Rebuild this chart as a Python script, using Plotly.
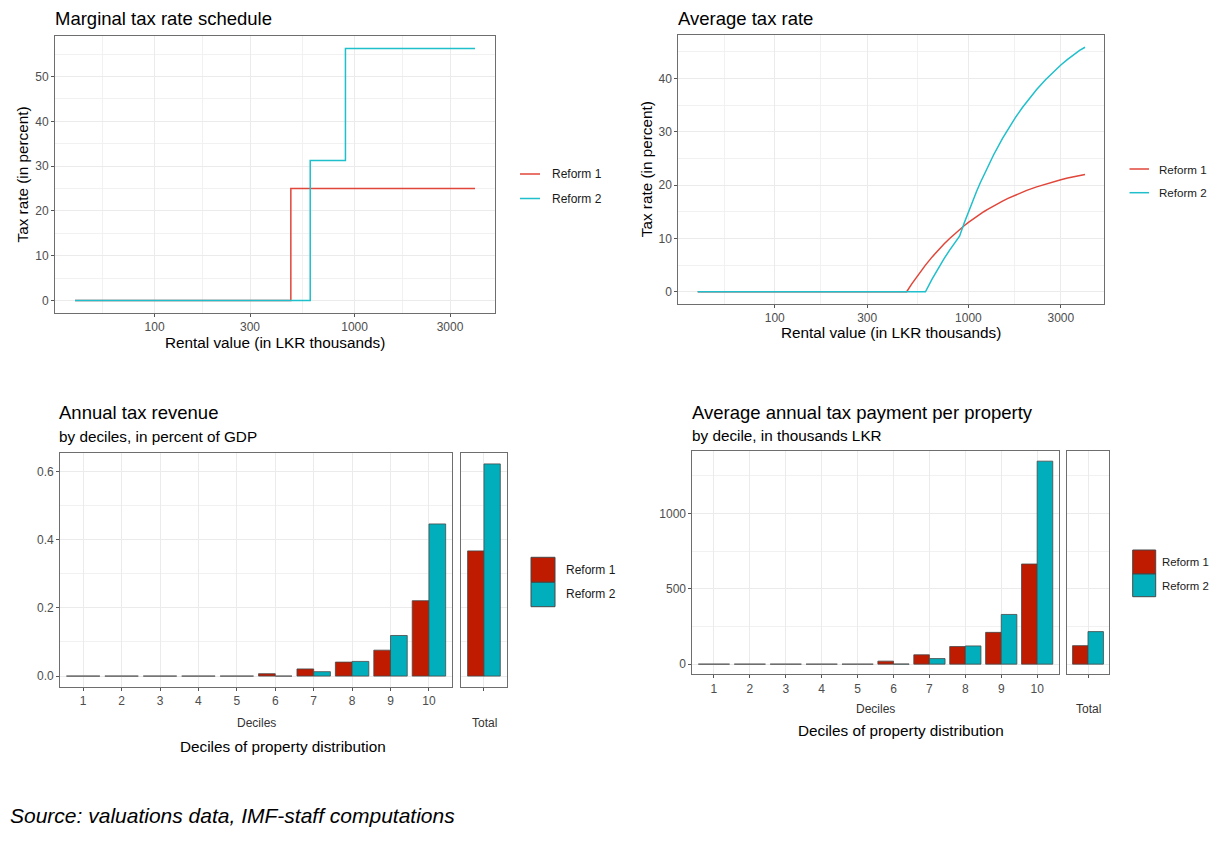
import math
import plotly.graph_objects as go

PAGE_W, PAGE_H = 1217, 852
OFF = 8                      # default body margin of the html page
W, H = PAGE_W - 2 * OFF, PAGE_H - 2 * OFF

# ---------------- data ----------------
rental_marg = [40, 480, 600, 900, 4000]
marg_reform1 = [0, 25, 25, 25, 25]
marg_reform2 = [0, 0, 31.25, 56.25, 56.25]

rental_avg = [40, 480, 510, 540, 570, 600, 650, 700, 750, 800, 850, 900, 950, 1000, 1050,
              1100, 1150, 1200, 1250, 1350, 1500, 1600, 1750, 1900, 2000, 2250, 2500, 2750,
              3000, 3250, 3500, 3750, 4000]
avg_reform1 = [0, 0, 1.47, 2.78, 3.95, 5.0, 6.54, 7.86, 9.0, 10.0, 10.88, 11.67, 12.37, 13.0,
               13.57, 14.09, 14.57, 15.0, 15.4, 16.11, 17.0, 17.5, 18.14, 18.68, 19.0, 19.67,
               20.2, 20.64, 21.0, 21.31, 21.57, 21.8, 22.0]
avg_reform2 = [0, 0, 0, 0, 0, 0, 2.40, 4.46, 6.25, 7.81, 9.19, 10.42, 12.83, 15.0, 16.96,
               18.75, 20.38, 21.88, 23.25, 25.69, 28.75, 30.47, 32.68, 34.54, 35.63, 37.92,
               39.75, 41.25, 42.5, 43.56, 44.46, 45.25, 45.84]

deciles = ["1", "2", "3", "4", "5", "6", "7", "8", "9", "10"]
rev_reform1 = [0, 0, 0, 0, 0, 0.007, 0.021, 0.041, 0.076, 0.221]
rev_reform2 = [0, 0, 0, 0, 0, 0.0, 0.013, 0.043, 0.119, 0.446]
rev_total = [0.367, 0.622]          # Reform 1, Reform 2

pay_reform1 = [0, 0, 0, 0, 0, 20, 62, 117, 211, 665]
pay_reform2 = [0, 0, 0, 0, 0, 1, 37, 121, 330, 1348]
pay_total = [123, 216]              # Reform 1, Reform 2

series_names = ["Reform 1", "Reform 2"]

# x tick labels for log axes
log_ticks = [100, 300, 1000, 3000]
log_minor = [54.77, 173.2, 547.7, 1732.1]

# ---------------- styles ----------------
FONT = "Liberation Sans, Arial, Helvetica, sans-serif"
LINE_RED = "#E0463A"
LINE_TEAL = "#1FBFCB"
BAR_RED = "#BE1B00"
BAR_TEAL = "#00AFBB"
BAR_EDGE = "#474747"
GRID = "#EBEBEB"
BORDER = "#6E6E6E"
TICKTXT = "#4D4D4D"
T_SIZE = 18.5
S_SIZE = 15.3


def px(x):
    return (x - OFF) / W


def py(y):
    return 1 - (y - OFF) / H


def expand(lo, hi, f=0.05):
    d = (hi - lo) * f
    return [lo - d, hi + d]


lr = expand(math.log10(min(rental_marg)), math.log10(max(rental_marg)))

fig = go.Figure()

# --- top left: marginal rates (step lines)
for name, vals, col in zip(series_names, [marg_reform1, marg_reform2], [LINE_RED, LINE_TEAL]):
    fig.add_trace(go.Scatter(x=rental_marg, y=vals, mode="lines", name=name,
                             line=dict(color=col, width=1.5, shape="hv"),
                             xaxis="x", yaxis="y", showlegend=False))

# --- top right: average rates
for name, vals, col in zip(series_names, [avg_reform1, avg_reform2], [LINE_RED, LINE_TEAL]):
    fig.add_trace(go.Scatter(x=rental_avg, y=vals, mode="lines", name=name,
                             line=dict(color=col, width=1.5),
                             xaxis="x2", yaxis="y2", showlegend=False))

# --- bottom left: revenue bars
bar_common = dict(marker_line_color=BAR_EDGE, marker_line_width=0.8, showlegend=False)
fig.add_trace(go.Bar(x=deciles, y=rev_reform1, name="Reform 1", marker_color=BAR_RED,
                     xaxis="x3", yaxis="y3", offsetgroup="a", **bar_common))
fig.add_trace(go.Bar(x=deciles, y=rev_reform2, name="Reform 2", marker_color=BAR_TEAL,
                     xaxis="x3", yaxis="y3", offsetgroup="b", **bar_common))
fig.add_trace(go.Bar(x=["Total"], y=[rev_total[0]], name="Reform 1", marker_color=BAR_RED,
                     xaxis="x4", yaxis="y4", offsetgroup="a", **bar_common))
fig.add_trace(go.Bar(x=["Total"], y=[rev_total[1]], name="Reform 2", marker_color=BAR_TEAL,
                     xaxis="x4", yaxis="y4", offsetgroup="b", **bar_common))

# --- bottom right: payment bars
fig.add_trace(go.Bar(x=deciles, y=pay_reform1, name="Reform 1", marker_color=BAR_RED,
                     xaxis="x5", yaxis="y5", offsetgroup="a", **bar_common))
fig.add_trace(go.Bar(x=deciles, y=pay_reform2, name="Reform 2", marker_color=BAR_TEAL,
                     xaxis="x5", yaxis="y5", offsetgroup="b", **bar_common))
fig.add_trace(go.Bar(x=["Total"], y=[pay_total[0]], name="Reform 1", marker_color=BAR_RED,
                     xaxis="x6", yaxis="y6", offsetgroup="a", **bar_common))
fig.add_trace(go.Bar(x=["Total"], y=[pay_total[1]], name="Reform 2", marker_color=BAR_TEAL,
                     xaxis="x6", yaxis="y6", offsetgroup="b", **bar_common))

tickfont = dict(family=FONT, size=12, color=TICKTXT)
base_axis = dict(showline=True, mirror=True, linecolor=BORDER, linewidth=1,
                 ticks="outside", ticklen=3, tickcolor="#555555", tickwidth=1,
                 gridcolor=GRID, gridwidth=1, zeroline=False, tickfont=tickfont)


def minor(vals):
    return dict(tickmode="array", tickvals=vals, showgrid=True, gridcolor="#F1F1F1",
                gridwidth=0.6, ticks="")


rev_all = rev_reform1 + rev_reform2 + rev_total
pay_all = pay_reform1 + pay_reform2 + pay_total

rev_range = expand(0, max(rev_all))
pay_range = expand(0, max(pay_all))

fig.update_layout(
    width=W, height=H, autosize=False,
    margin=dict(l=0, r=0, t=0, b=0),
    paper_bgcolor="white", plot_bgcolor="white",
    font=dict(family=FONT, color="#000000"),
    showlegend=False,
    barmode="group", bargap=0.13, bargroupgap=0.0,
    # top-left
    xaxis=dict(base_axis, type="log", domain=[px(55), px(495)], range=lr, anchor="y",
               tickvals=log_ticks, ticktext=[str(v) for v in log_ticks], minor=minor(log_minor)),
    yaxis=dict(base_axis, domain=[py(313), py(36)], range=expand(0, max(marg_reform2)),
               anchor="x", tickvals=[0, 10, 20, 30, 40, 50],
               minor=minor([5, 15, 25, 35, 45, 55])),
    # top-right
    xaxis2=dict(base_axis, type="log", domain=[px(678.3), px(1104.4)], range=lr, anchor="y2",
                tickvals=log_ticks, ticktext=[str(v) for v in log_ticks], minor=minor(log_minor)),
    yaxis2=dict(base_axis, domain=[py(304), py(35)], range=expand(0, max(avg_reform2)),
                anchor="x2", tickvals=[0, 10, 20, 30, 40],
                minor=minor([5, 15, 25, 35, 45])),
    # bottom-left main
    xaxis3=dict(base_axis, type="category", domain=[px(60.1), px(452)], range=[-0.6, 9.6],
                anchor="y3"),
    yaxis3=dict(base_axis, domain=[py(686.7), py(453.3)], range=rev_range, anchor="x3",
                tickvals=[0, 0.2, 0.4, 0.6], ticktext=["0.0", "0.2", "0.4", "0.6"],
                minor=minor([0.1, 0.3, 0.5])),
    # bottom-left total
    xaxis4=dict(base_axis, type="category", domain=[px(461.4), px(506.5)], range=[-0.6, 0.6],
                anchor="y4", showticklabels=False),
    yaxis4=dict(base_axis, domain=[py(686.7), py(453.3)], range=rev_range, anchor="x4",
                tickvals=[0, 0.2, 0.4, 0.6], showticklabels=False, ticks="",
                minor=minor([0.1, 0.3, 0.5])),
    # bottom-right main
    xaxis5=dict(base_axis, type="category", domain=[px(692.4), px(1058.7)], range=[-0.6, 9.6],
                anchor="y5"),
    yaxis5=dict(base_axis, domain=[py(674.3), py(451)], range=pay_range, anchor="x5",
                tickvals=[0, 500, 1000], minor=minor([250, 750, 1250])),
    # bottom-right total
    xaxis6=dict(base_axis, type="category", domain=[px(1066.7), px(1109.3)], range=[-0.6, 0.6],
                anchor="y6", showticklabels=False),
    yaxis6=dict(base_axis, domain=[py(674.3), py(451)], range=pay_range, anchor="x6",
                tickvals=[0, 500, 1000], showticklabels=False, ticks="",
                minor=minor([250, 750, 1250])),
)

ann = []
shapes = []


def text(x, y, s, size, color="#000000", xanchor="left", angle=0, italic=False):
    ann.append(dict(x=px(x), y=py(y), xref="paper", yref="paper", text=s, showarrow=False,
                    xanchor=xanchor, yanchor="middle", textangle=angle,
                    font=dict(family=FONT, size=size, color=color,
                              style="italic" if italic else "normal")))


# titles
text(53, 18.3, "Marginal tax rate schedule", T_SIZE)
text(676, 18.3, "Average tax rate", T_SIZE)
text(57.3, 412.7, "Annual tax revenue", T_SIZE)
text(57.3, 436.7, "by deciles, in percent of GDP", S_SIZE)
text(690.4, 412.7, "Average annual tax payment per property", T_SIZE)
text(690.4, 435.5, "by decile, in thousands LKR", S_SIZE)

# axis titles
text(275, 342.7, "Rental value (in LKR thousands)", S_SIZE, xanchor="center")
text(22, 174.5, "Tax rate (in percent)", S_SIZE, xanchor="center", angle=-90)
text(891.3, 332.7, "Rental value (in LKR thousands)", S_SIZE, xanchor="center")
text(646.7, 169.5, "Tax rate (in percent)", S_SIZE, xanchor="center", angle=-90)

# facet labels + x titles
text(256, 723, "Deciles", 12, color="#333333", xanchor="center")
text(484, 723, "Total", 12, color="#333333", xanchor="center")
text(283, 746, "Deciles of property distribution", S_SIZE, xanchor="center")
text(875.5, 709, "Deciles", 12, color="#333333", xanchor="center")
text(1088, 709, "Total", 12, color="#333333", xanchor="center")
text(900.9, 730, "Deciles of property distribution", S_SIZE, xanchor="center")

# source
text(8, 815, "Source: valuations data, IMF-staff computations", 21, italic=True)


# line legends (top panels)
def line_legend(x0, x1, ys, tx, size=12):
    for y, col, name in zip(ys, [LINE_RED, LINE_TEAL], series_names):
        shapes.append(dict(type="line", xref="paper", yref="paper",
                           x0=px(x0), x1=px(x1), y0=py(y), y1=py(y),
                           line=dict(color=col, width=1.5)))
        text(tx, y, name, size, color="#1A1A1A")


line_legend(520, 540, [174, 198.5], 549.5)
line_legend(1129.5, 1149, [169, 192.7], 1156.5, size=11.6)


# bar legends (bottom panels)
def bar_legend(x0, x1, ys, tx, tys, size=12):
    for (y0, y1), col, name, ty in zip(ys, [BAR_RED, BAR_TEAL], series_names, tys):
        shapes.append(dict(type="rect", xref="paper", yref="paper",
                           x0=px(x0), x1=px(x1), y0=py(y1), y1=py(y0),
                           fillcolor=col, line=dict(color=BAR_EDGE, width=1)))
        text(tx, ty, name, size, color="#1A1A1A")


bar_legend(531, 555, [(557.3, 582.3), (582.3, 606.7)], 563.5, [570, 594])
bar_legend(1132.7, 1155.7, [(550, 574), (574, 596.7)], 1160.3, [562.3, 586], size=11.4)

fig.update_layout(annotations=ann, shapes=shapes)

fig.write_html("out.html")
